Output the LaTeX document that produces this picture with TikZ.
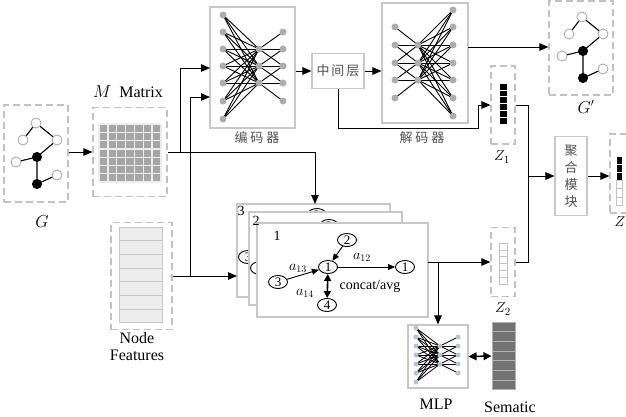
\documentclass[tikz,border=0pt]{standalone}
\usepackage{fontspec}
\setmainfont{Liberation Serif}
\newfontfamily\cjk{Noto Sans CJK SC}
\usetikzlibrary{arrows.meta,shapes.geometric,calc}
\definecolor{boxgray}{HTML}{C2C2C2}
\definecolor{solidgray}{HTML}{C8C8C8}
\definecolor{nodegray}{HTML}{ADADAD}
\definecolor{mlpnode}{HTML}{B9C3CF}
\definecolor{cellgray}{HTML}{A6A6A6}
\definecolor{cjkgray}{HTML}{505050}
\newcommand\minigraph[3]{%
\begin{scope}[shift={(#2,#3)}]
 \coordinate (#1a) at (36,123);
 \coordinate (#1b) at (23,140);
 \coordinate (#1c) at (57,140);
 \coordinate (#1d) at (16,162);
 \coordinate (#1e) at (57,175);
 \coordinate (#1f) at (37,157);
 \coordinate (#1h) at (37,184);
 \draw[gline] (#1a) -- (#1b) (#1a) -- (#1c) (#1c) -- (#1f) (#1f) -- (#1d) (#1f) -- (#1h) (#1h) -- (#1e);
 \foreach \p in {a,b,c,d,e} \node[ocirc] (#1n\p) at (#1\p) {};
 \foreach \p in {f,h} \node[bcirc] (#1n\p) at (#1\p) {};
\end{scope}}
\newcommand\cardgraph[3]{%
\begin{scope}[shift={(#2,#3)}]
 \node[anode] (#1a) at (328,267) {1};
 \node[anode] (#1b) at (347,240) {2};
 \node[anode] (#1c) at (278,282) {3};
 \node[anode] (#1d) at (327,305) {4};
 \node[anode] (#1e) at (405,267) {1};
 \draw[smarrow] (#1b) -- (#1a);
 \draw[smarrow] (#1c) -- (#1a);
 \draw[dblarrow] (#1a) -- (#1d);
 \draw[smarrow] (#1a) -- (#1e);
 \node[ctext] (#1la) at (298,268) {$a_{13}$};
 \node[ctext] (#1lb) at (362,257) {$a_{12}$};
 \node[ctext] (#1lc) at (305,293) {$a_{14}$};
 \node[ctext] (#1ld) at (370,286) {concat/avg};
\end{scope}}
\newcommand\backgraph[3]{%
\begin{scope}[shift={(#2,#3)}]
 \coordinate (#1a) at (328,267);
 \node[anode] (#1b) at (347,240) {2};
 \node[anode] (#1c) at (278,282) {3};
 \draw[smarrow] (#1b) -- (#1a);
 \draw[smarrow] (#1c) -- (#1a);
\end{scope}}
\begin{document}
\begin{tikzpicture}[x=1pt,y=-1pt,line width=1pt,
  >={Triangle[length=9pt,width=7.5pt]},
  dbox/.style={draw=boxgray,dash pattern=on 7pt off 4pt,line width=1.2pt,inner sep=0pt},
  sbox/.style={draw=solidgray,line width=1.1pt,fill=white,inner sep=0pt},
  gline/.style={line width=1.1pt},
  ocirc/.style={circle,draw=nodegray,fill=white,line width=0.9pt,minimum size=10pt,inner sep=0pt},
  bcirc/.style={circle,draw=black,fill=black,minimum size=9pt,inner sep=0pt},
  ndot/.style={circle,fill=nodegray,minimum size=7pt,inner sep=0pt},
  mdot/.style={circle,fill=mlpnode,minimum size=5pt,inner sep=0pt},
  nnline/.style={line width=0.9pt},
  anode/.style={ellipse,draw,fill=white,line width=0.9pt,minimum width=19pt,minimum height=13pt,inner sep=0pt,font=\fontsize{13}{14}\selectfont},
  smarrow/.style={-{Triangle[length=7pt,width=6pt]},line width=0.9pt,shorten >=0pt},
  dblarrow/.style={{Triangle[length=7pt,width=7pt]}-{Triangle[length=7pt,width=7pt]},line width=1.6pt},
  ctext/.style={font=\fontsize{14}{15}\selectfont,inner sep=0pt},
  mtext/.style={font=\fontsize{16}{18}\selectfont,inner sep=0pt},
  ztext/.style={font=\fontsize{15}{17}\selectfont,inner sep=0pt},
  cjktext/.style={font=\cjk\fontsize{13}{17}\selectfont,text=cjkgray,inner sep=0pt},
  card/.style={draw=solidgray,line width=1.1pt,fill=white,inner sep=0pt},
  cellb/.style={fill=black,draw=white,line width=0.8pt},
  cellw/.style={fill=white,draw=boxgray,line width=0.8pt}
]
\useasboundingbox (0,0) rectangle (626,416);
% ---------------- G ----------------
\node[dbox,minimum width=64pt,minimum height=97pt] (gbox) at (36,153.5) {};
\minigraph{g}{0}{0}
\node[mtext] (glab) at (42,222) {$G$};
% ---------------- M Matrix ----------------
\node[dbox,minimum width=74pt,minimum height=89pt] (mbox) at (130,152) {};
\node[mtext] (mlab) at (128,92) {$M$\ \ Matrix};
\fill[cellgray] (99,124) rectangle (161,182);
\foreach \i in {0,...,7} {
  \draw[draw=white!80!cellgray,line width=1.3pt] (99+\i*8.857,124) -- (99+\i*8.857,182);
  \draw[draw=white!80!cellgray,line width=1.3pt] (99,124+\i*8.286) -- (161,124+\i*8.286);
}
\draw[->] (gbox.east |- mbox.west) -- (mbox.west);
% ---------------- Node features ----------------
\node[dbox,minimum width=61pt,minimum height=107pt] (nf) at (141.5,276) {};
\foreach \i in {0,...,6}
  \draw[fill=black!7,draw=solidgray,line width=1pt] (119,227+\i*13.71) rectangle (162,227+\i*13.71+13.71);
\node[mtext,align=center,font=\fontsize{16}{17}\selectfont] (nflab) at (137,347) {Node\\Features};
% ---------------- Encoder ----------------
\node[sbox,minimum width=85pt,minimum height=121pt] (enc) at (252.5,67.5) {};
\foreach \y [count=\i] in {15,32,49,66,83,101,119} \coordinate (eL\i) at (223,\y);
\foreach \y [count=\i] in {49,66,83} \coordinate (eM\i) at (259,\y);
\foreach \y [count=\i] in {32,49,66,83,101} \coordinate (eR\i) at (283,\y);
\foreach \i in {1,...,7} \foreach \j in {1,2,3} \draw[nnline] (eL\i) -- (eM\j);
\foreach \j in {1,2,3} \foreach \k in {0,1,2} {\pgfmathtruncatemacro\r{\j+\k}\draw[nnline] (eM\j) -- (eR\r);}
\foreach \i in {1,...,7} \node[ndot] (eLd\i) at (eL\i) {};
\foreach \i in {1,...,3} \node[ndot] (eMd\i) at (eM\i) {};
\foreach \i in {1,...,5} \node[ndot] (eRd\i) at (eR\i) {};
\node[cjktext] (enclab) at (257,138) {编\kern3pt 码\kern3pt 器};
% ---------------- Middle ----------------
\node[sbox,minimum width=52pt,minimum height=35pt] (mid) at (338,71) {};
\node[cjktext] (midlab) at (mid) {中\kern2pt 间\kern2pt 层};
% ---------------- Decoder ----------------
\node[sbox,minimum width=86pt,minimum height=120pt] (dec) at (425,63) {};
\foreach \y [count=\i] in {27,45,63,80,98} \coordinate (dL\i) at (395,\y);
\foreach \y [count=\i] in {45,63,80} \coordinate (dM\i) at (418,\y);
\foreach \y [count=\i] in {10,27,45,63,80,98,116} \coordinate (dR\i) at (453,\y);
\foreach \j in {1,2,3} \foreach \k in {0,1,2} {\pgfmathtruncatemacro\r{\j+\k}\draw[nnline] (dL\r) -- (dM\j);}
\foreach \i in {1,...,7} \foreach \j in {1,2,3} \draw[nnline] (dR\i) -- (dM\j);
\foreach \i in {1,...,5} \node[ndot] (dLd\i) at (dL\i) {};
\foreach \i in {1,...,3} \node[ndot] (dMd\i) at (dM\i) {};
\foreach \i in {1,...,7} \node[ndot] (dRd\i) at (dR\i) {};
\node[cjktext] (declab) at (422,138) {解\kern3pt 码\kern3pt 器};
% ---------------- G' ----------------
\node[dbox,minimum width=64pt,minimum height=94pt] (gpbox) at (581,48) {};
\minigraph{h}{546}{-106}
\node[mtext] (gplab) at (586,107) {$G'$};
% ---------------- Z1, Z2 ----------------
\node[dbox,minimum width=24pt,minimum height=78pt] (z1) at (503,105) {};
\foreach \i in {0,...,5} \draw[cellb] (499,83+\i*6.9) rectangle (507,83+\i*6.9+6.9);
\node[ztext] (z1lab) at (502,157) {$Z_1$};
\node[dbox,minimum width=24pt,minimum height=69pt] (z2) at (503,262) {};
\foreach \i in {0,...,5} \draw[cellw] (499,243+\i*6.9) rectangle (507,243+\i*6.9+6.9);
\node[ztext] (z2lab) at (503,309) {$Z_2$};
% ---------------- Aggregation ----------------
\node[sbox,minimum width=32pt,minimum height=79pt] (agg) at (571,176) {};
\node[cjktext,align=center] (agglab) at (agg) {聚\\合\\模\\块};
\node[dbox,minimum width=24pt,minimum height=79pt] (zbox) at (622,173.5) {};
\foreach \i in {0,1,2} \draw[cellb] (616,156+\i*8.2) rectangle (622,156+\i*8.2+8.2);
\foreach \i in {3,4,5} \draw[cellw] (616,156+\i*8.2) rectangle (622,156+\i*8.2+8.2);
\node[ztext] (zlab) at (620,222) {$Z$};
% ---------------- Attention cards ----------------
\node[card,minimum width=153pt,minimum height=93pt] (card3) at (313.5,250.5) {};
\backgraph{k}{-30}{-25}
\node[card,minimum width=153pt,minimum height=93pt] (card2) at (325.5,258.5) {};
\backgraph{j}{-18}{-14}
\node[card,minimum width=171pt,minimum height=94pt] (card1) at (342.5,270) {};
\cardgraph{c}{0}{0}
\node[ctext] (n3) at (241,211) {3};
\node[ctext] (n2) at (256,221) {2};
\node[ctext] (n1) at (277,236) {1};
% ---------------- MLP & Sematic ----------------
\node[sbox,minimum width=60pt,minimum height=63pt] (mlp) at (438,356.5) {};
\foreach \y [count=\i] in {328,337,346,355,364,373,382} \coordinate (mL\i) at (416,\y);
\foreach \y [count=\i] in {346,355,364} \coordinate (mM\i) at (440,\y);
\foreach \y [count=\i] in {337,346,355,364,373} \coordinate (mR\i) at (458,\y);
\foreach \i in {1,...,7} \foreach \j in {1,2,3} \draw[line width=0.8pt] (mL\i) -- (mM\j);
\foreach \j in {1,2,3} \foreach \k in {0,1,2} {\pgfmathtruncatemacro\r{\j+\k}\draw[line width=0.8pt] (mM\j) -- (mR\r);}
\foreach \i in {1,...,7} \node[mdot] (mLd\i) at (mL\i) {};
\foreach \i in {1,...,3} \node[mdot] (mMd\i) at (mM\i) {};
\foreach \i in {1,...,5} \node[mdot] (mRd\i) at (mR\i) {};
\node[mtext] (mlplab) at (436,404) {MLP};
\node[inner sep=0pt,minimum width=23pt,minimum height=68pt] (sem) at (503.5,356) {};
\foreach \i in {0,...,6} \draw[fill=black!55,draw=black!30,line width=1pt] (492,322+\i*9.71) rectangle (515,322+\i*9.71+9.71);
\node[mtext] (semlab) at (510,407) {Sematic};
% ---------------- Connectors ----------------
\coordinate (jA) at (180,152);
\coordinate (jT) at (315,152);
\coordinate (c3top) at (315,204);
\coordinate (encin1) at (210,68);
\coordinate (encin2) at (210,97);
\coordinate (jB) at (190,276);
\coordinate (c3west) at (237,276);
\draw (mbox.east) -- (jA);
\draw[->] (jA) |- (encin1);
\draw[->] (jA) -- (jT) -- (c3top);
\draw[->] (nf.east) -- (c3west);
\draw[->] (jB) |- (encin2);
\draw[->] (enc.east |- mid.west) -- (mid.west);
\draw[->] (mid.east) -- (dec.west |- mid.east);
\coordinate (kA) at (478,128);
\draw[->] (mid.south) |- (kA) |- (z1.west);
\coordinate (dA) at (468,47);
\draw[->] (dA) -- (dA -| gpbox.west);
\coordinate (o1) at (428,262);
\coordinate (jm) at (438,262);
\draw[->] (o1) -- (z2.west);
\draw[->] (jm) -- (mlp.north);
\coordinate (jC) at (528,176);
\draw (z1.east) -| (jC);
\draw (z2.east) -| (jC);
\draw[->] (jC) -- (agg.west);
\draw[->] (agg.east) -- (zbox.west |- agg.east);
\draw[{Triangle[length=8pt,width=8pt]}-{Triangle[length=8pt,width=8pt]},line width=1.5pt] (mlp.east) -- (sem.west);
\end{tikzpicture}
\end{document}
